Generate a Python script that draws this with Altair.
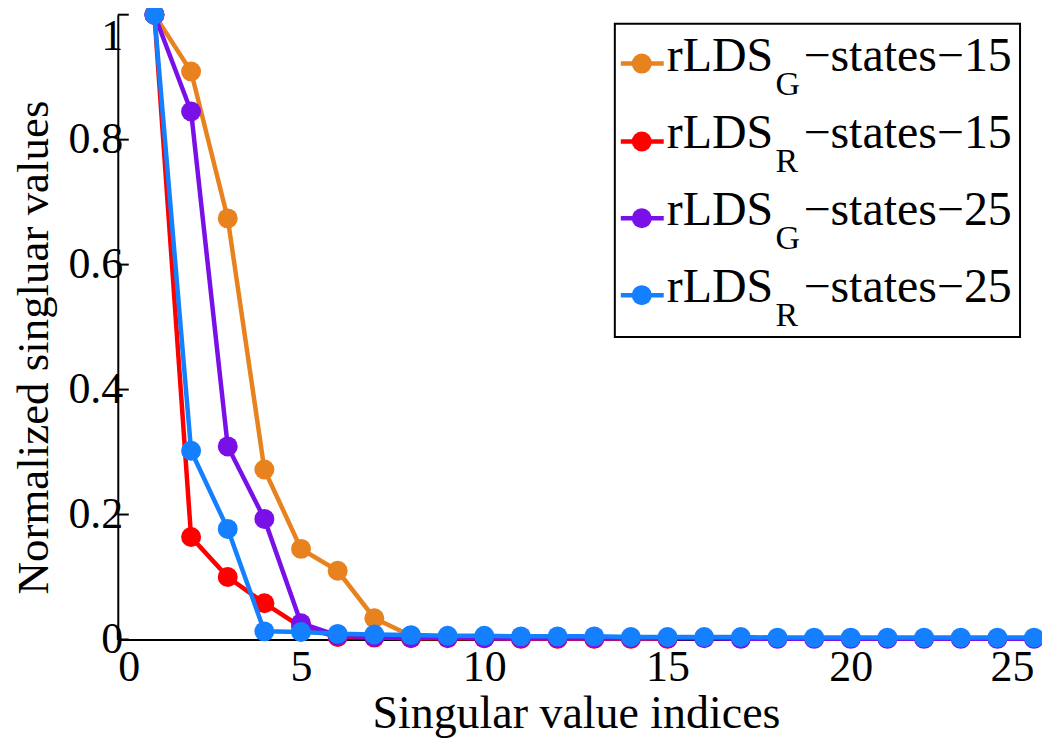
import altair as alt
import pandas as pd

# ---------------- data ----------------
idx15 = list(range(1, 16))
idx25 = list(range(1, 26))

g15 = [1.0, 0.909, 0.674, 0.272, 0.145, 0.110, 0.034, 0.006, 0.004, 0.003,
       0.003, 0.002, 0.002, 0.002, 0.002]
r15 = [1.0, 0.164, 0.100, 0.058, 0.020, 0.004, 0.003, 0.002, 0.002, 0.002,
       0.001, 0.001, 0.001, 0.001, 0.001]
g25 = [1.0, 0.845, 0.309, 0.193, 0.026, 0.006, 0.004, 0.003, 0.003, 0.002,
       0.002, 0.002, 0.002, 0.002, 0.002, 0.002, 0.001, 0.001, 0.001, 0.001,
       0.001, 0.001, 0.001, 0.001, 0.001]
r25 = [1.0, 0.302, 0.177, 0.013, 0.012, 0.009, 0.008, 0.007, 0.006, 0.006,
       0.005, 0.005, 0.005, 0.004, 0.004, 0.004, 0.004, 0.003, 0.003, 0.003,
       0.003, 0.003, 0.003, 0.003, 0.003]

series_names = ["rLDS_G-states-15", "rLDS_R-states-15", "rLDS_G-states-25", "rLDS_R-states-25"]
series_sub = ["G", "R", "G", "R"]
series_rest = ["\u2212states\u221215", "\u2212states\u221215", "\u2212states\u221225", "\u2212states\u221225"]
series_colors = ["#E8821E", "#FF0000", "#7A10E8", "#1480FF"]
series_x = [idx15, idx15, idx25, idx25]
series_y = [g15, r15, g25, r25]

x_ticks = [0, 5, 10, 15, 20, 25]
y_ticks = [0, 0.2, 0.4, 0.6, 0.8, 1.0]

rows = []
for name, xs, ys in zip(series_names, series_x, series_y):
    for xv, yv in zip(xs, ys):
        rows.append({"series": name, "idx": xv, "val": yv})
df = pd.DataFrame(rows)

W, H = 918, 626
FONT = "Liberation Serif, Times New Roman, serif"
PT = 400
LW = 4.5

xscale = alt.Scale(domain=[0, 25], nice=False, zero=False)
yscale = alt.Scale(domain=[0, 1], nice=False)
cscale = alt.Scale(domain=series_names, range=series_colors)

layers = []
axis_df = pd.DataFrame({"idx": [0, 25], "val": [0, 1]})
base_axes = alt.Chart(axis_df).mark_point(opacity=0).encode(
    x=alt.X("idx:Q", scale=xscale, title="Singular value indices",
            axis=alt.Axis(values=x_ticks, format="d", ticks=False, grid=False,
                          labelPadding=6, titleY=88, titleBaseline="alphabetic",
                          titleFontSize=46)),
    y=alt.Y("val:Q", scale=yscale, title="Normalized singluar values",
            axis=alt.Axis(values=y_ticks, format="~g", ticks=False, grid=False,
                          labelPadding=-5,
                          labelBaseline={"condition": {"test": "datum.value === 1", "value": "top"},
                                         "value": "middle"},
                          titleX=-70, titleY=333,
                          titleAngle=270, titleBaseline="alphabetic", titleAlign="center",
                          titleFontSize=45)),
)
layers.append(base_axes)

ytick_df = pd.DataFrame({"val": y_ticks})
layers.append(alt.Chart(ytick_df).mark_rule(color="black", strokeWidth=2).encode(
    y=alt.Y("val:Q", scale=yscale), x=alt.value(0), x2=alt.value(11)))
xtick_df = pd.DataFrame({"idx": x_ticks})
layers.append(alt.Chart(xtick_df).mark_rule(color="black", strokeWidth=2).encode(
    x=alt.X("idx:Q", scale=xscale), y=alt.value(H), y2=alt.value(H - 11)))

for name in series_names:
    sub = df[df["series"] == name]
    enc = dict(
        x=alt.X("idx:Q", scale=xscale),
        y=alt.Y("val:Q", scale=yscale),
        color=alt.Color("series:N", scale=cscale, legend=None),
    )
    layers.append(alt.Chart(sub).mark_line(strokeWidth=LW).encode(**enc))
    layers.append(alt.Chart(sub).mark_point(filled=True, size=PT, opacity=1).encode(**enc))

# ---------------- custom legend ----------------
box_df = pd.DataFrame({"k": [0]})
layers.append(alt.Chart(box_df).mark_rect(fill="white", stroke="black", strokeWidth=2).encode(
    x=alt.value(498), x2=alt.value(904), y=alt.value(9), y2=alt.value(323)))

row_y = [49, 127, 204, 281]
for i, name in enumerate(series_names):
    ly = row_y[i]
    one = pd.DataFrame({"series": [name], "main": ["rLDS"], "sub": [series_sub[i]],
                        "rest": [series_rest[i]]})
    col = alt.Color("series:N", scale=cscale, legend=None)
    layers.append(alt.Chart(one).mark_rule(strokeWidth=LW).encode(
        x=alt.value(504), x2=alt.value(547), y=alt.value(ly), color=col))
    layers.append(alt.Chart(one).mark_point(filled=True, size=PT, opacity=1).encode(
        x=alt.value(525), y=alt.value(ly), color=col))
    layers.append(alt.Chart(one).mark_text(font=FONT, fontSize=48, align="left",
                                           baseline="alphabetic", color="black").encode(
        x=alt.value(550), y=alt.value(ly + 7), text="main:N"))
    layers.append(alt.Chart(one).mark_text(font=FONT, fontSize=34, align="left",
                                           baseline="alphabetic", color="black").encode(
        x=alt.value(659), y=alt.value(ly + 31), text="sub:N"))
    layers.append(alt.Chart(one).mark_text(font=FONT, fontSize=48, align="left",
                                           baseline="alphabetic", color="black").encode(
        x=alt.value(687), y=alt.value(ly + 7), text="rest:N"))

chart = alt.layer(*layers).properties(
    width=W, height=H,
    autosize=alt.AutoSizeParams(type="none"),
    padding={"left": 110, "top": 6, "right": 8, "bottom": 98},
).configure_view(stroke=None).configure_axis(
    domainColor="black", domainWidth=2,
    labelFont=FONT, labelFontSize=44, labelColor="black",
    titleFont=FONT, titleColor="black", titleFontWeight="normal",
)

chart.save("out.html", embed_options={"renderer": "svg", "actions": False})
